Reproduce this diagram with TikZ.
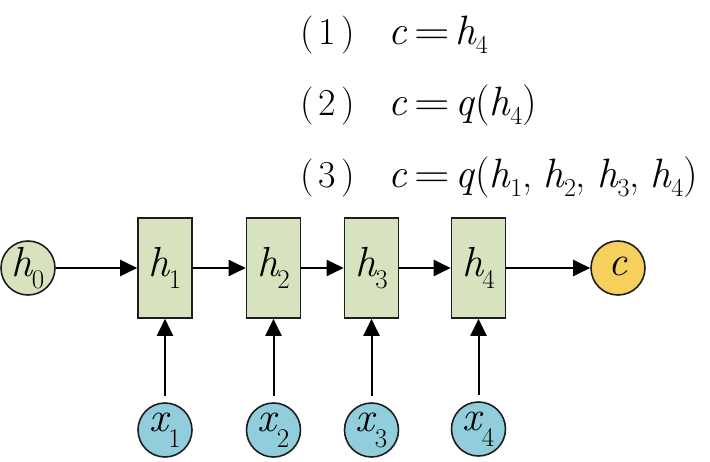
\documentclass[tikz,border=0pt]{standalone}
\usepackage{fontspec}
\usepackage{graphicx}
\usetikzlibrary{arrows.meta}
\newcommand\esub[1]{\kern-1pt\raisebox{-9pt}{\fontsize{26}{26}\selectfont\upshape #1}}
\newcommand\nsub[1]{\kern-2pt\raisebox{-12pt}{\fontsize{27}{27}\selectfont\upshape #1}}
\newcommand\eqnum[1]{\makebox[88pt][l]{\fontsize{38}{38}\selectfont(\hspace{5pt}#1\hspace{5pt})}}
\newcommand\eqsign{\hspace{7pt}\scalebox{1.2}[1]{=}\hspace{6pt}}
\newcommand\hv[1]{\textit{h}\esub{#1}}
\newcommand\cm{,\hspace{11pt}}
\definecolor{boxgreen}{RGB}{215,227,190}
\definecolor{inblue}{RGB}{146,205,220}
\definecolor{outyellow}{RGB}{246,208,92}
\definecolor{edge}{RGB}{30,30,30}
\tikzset{
  hbox/.style={draw=edge, line width=1.6pt, fill=boxgreen, minimum width=54pt, minimum height=100pt, inner sep=0pt, font=\fontsize{42}{42}\selectfont},
  statecirc/.style={circle, draw=edge, line width=1.6pt, minimum size=54pt, inner sep=0pt, font=\fontsize{42}{42}\selectfont},
  flow/.style={line width=2pt, draw=black, -{Triangle[length=17pt,width=16pt]}},
  eqline/.style={anchor=base west, inner sep=0pt, font=\fontsize{41}{41}\selectfont}
}
\begin{document}
\begin{tikzpicture}[x=1pt,y=-1pt]
\useasboundingbox (0,0) rectangle (710,462);
% equations
\node[eqline] (e1) at (300,45) {\eqnum{1}\textit{c}\eqsign\hv{4}};
\node[eqline] (e2) at (300,116) {\eqnum{2}\textit{c}\eqsign\textit{q}(\hv{4})};
\node[eqline] (e3) at (300,188) {\eqnum{3}\textit{c}\eqsign\textit{q}(\hv{1}\cm\hv{2}\cm\hv{3}\cm\hv{4})};
% state boxes
\node[hbox] (h1) at (165,268) {\textit{h}\nsub{1}};
\node[hbox] (h2) at (273.5,268) {\textit{h}\nsub{2}};
\node[hbox] (h3) at (371.5,268) {\textit{h}\nsub{3}};
\node[hbox] (h4) at (478.5,268) {\textit{h}\nsub{4}};
% initial state and output
\node[statecirc, fill=boxgreen] (h0) at (28,268) {\textit{h}\nsub{0}};
\node[statecirc, fill=outyellow] (c) at (618,268) {\raisebox{4pt}{\textit{c}}};
% inputs
\node[statecirc, fill=inblue] (x1) at (165,430) {\raisebox{4pt}{\textit{x}}\nsub{1}};
\node[statecirc, fill=inblue] (x2) at (273.5,430) {\raisebox{4pt}{\textit{x}}\nsub{2}};
\node[statecirc, fill=inblue] (x3) at (371.5,430) {\raisebox{4pt}{\textit{x}}\nsub{3}};
\node[statecirc, fill=inblue] (x4) at (478.5,429) {\raisebox{4pt}{\textit{x}}\nsub{4}};
% connectors
\draw[flow] (h0) -- (h1);
\draw[flow] (h1) -- (h2);
\draw[flow] (h2) -- (h3);
\draw[flow] (h3) -- (h4);
\draw[flow] (h4) -- (c);
\draw[flow, shorten <=6pt] (x1) -- (h1);
\draw[flow, shorten <=6pt] (x2) -- (h2);
\draw[flow, shorten <=6pt] (x3) -- (h3);
\draw[flow, shorten <=6pt] (x4) -- (h4);
\end{tikzpicture}
\end{document}
